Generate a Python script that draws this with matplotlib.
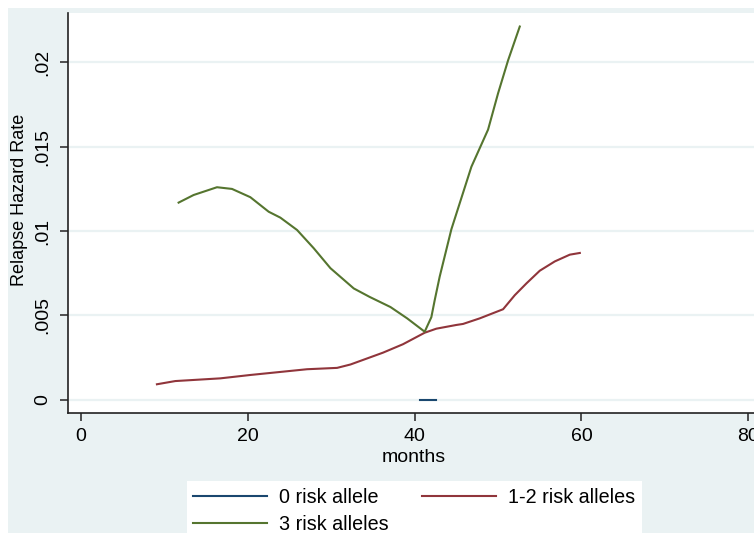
import matplotlib
matplotlib.use("Agg")
import matplotlib.pyplot as plt
from matplotlib.patches import Rectangle

plt.rcParams['font.family'] = ['Liberation Sans', 'DejaVu Sans']

# ---- data ----
blue_months = [40.6, 42.6]
blue_rate = [0.0, 0.0]

red_months = [9.1, 11.3, 16.7, 20.3, 24.3, 27.1, 30.7, 32.3, 36.2, 38.6, 41.2, 42.6,
              45.0, 45.8, 47.8, 50.6, 52.0, 53.4, 55.0, 56.8, 58.6, 59.8]
red_rate = [0.00093, 0.00112, 0.00128, 0.00148, 0.00168, 0.00182, 0.0019, 0.0021,
            0.0028, 0.0033, 0.00398, 0.00422, 0.00444, 0.0045, 0.00483, 0.00537,
            0.0062, 0.0069, 0.00765, 0.0082, 0.0086, 0.0087]

green_months = [11.7, 13.5, 16.3, 18.1, 20.3, 22.5, 23.9, 25.9, 27.9, 29.9, 32.7, 34.6,
                37.1, 39.1, 41.2, 42.0, 42.4, 43.0, 44.4, 46.8, 48.8, 50.0, 51.2, 52.6]
green_rate = [0.01168, 0.01213, 0.01259, 0.01249, 0.0120, 0.01114, 0.01079, 0.01006,
              0.00898, 0.0078, 0.0066, 0.0061, 0.0055, 0.00483, 0.00404, 0.0049,
              0.0059, 0.0073, 0.0101, 0.0138, 0.0160, 0.01815, 0.0201, 0.0221]

labels = ['0 risk allele', '1-2 risk alleles', '3 risk alleles']
x_ticks = [0, 20, 40, 60, 80]
y_ticks = [0, 0.005, 0.01, 0.015, 0.02]
y_tick_labels = ['0', '.005', '.01', '.015', '.02']

# ---- styling ----
W, H = 754, 533
bg = '#EAF2F3'
c_blue = '#1A476F'
c_red = '#90353B'
c_green = '#55752F'
fs = 14

fig = plt.figure(figsize=(W / 100, H / 100), dpi=100)
fig.patch.set_facecolor('white')
fig.patches.append(Rectangle((8 / W, 0), 1, 1 - 8 / H, transform=fig.transFigure,
                             facecolor=bg, edgecolor='none', zorder=-10))
# legend box (extends past the bottom edge like the reference)
fig.patches.append(Rectangle((187 / W, 0), (642 - 187) / W, 1 - 481 / H,
                             transform=fig.transFigure, facecolor='white',
                             edgecolor='none', zorder=-5))

left, top, bottom, right = 68, 13, 413, 760
ax = fig.add_axes([left / W, 1 - bottom / H, (right - left) / W, (bottom - top) / H])
ax.set_facecolor('white')

ax.plot(blue_months, blue_rate, color=c_blue, lw=1.5, label=labels[0], zorder=3)
ax.plot(red_months, red_rate, color=c_red, lw=1.5, label=labels[1], zorder=3)
ax.plot(green_months, green_rate, color=c_green, lw=1.5, label=labels[2], zorder=3)

ax.set_xlim(-1.56, 81.4)
ax.set_ylim(-0.00077, 0.0229)
ax.set_xticks(x_ticks)
ax.set_yticks(y_ticks)
ax.set_yticklabels(y_tick_labels, rotation=90, va='center')
ax.tick_params(axis='both', labelsize=fs, length=6, width=1.2, color='#333333', direction='out')
ax.tick_params(axis='y', pad=6)
ax.tick_params(axis='x', pad=5)
ax.grid(axis='y', color=bg, lw=1.6, zorder=0)
ax.set_axisbelow(True)
for s in ['top', 'right']:
    ax.spines[s].set_visible(False)
for s in ['left', 'bottom']:
    ax.spines[s].set_color('#222222')
    ax.spines[s].set_linewidth(1.2)

ax.set_xlabel('months', fontsize=fs, labelpad=3)
fig.text(20 / W, 1 - 200 / H, 'Relapse Hazard Rate', rotation=90, ha='center', va='center',
         fontsize=13.0)

h = ax.get_lines()
leg = fig.legend([h[0], h[2], h[1]], [labels[0], labels[2], labels[1]], ncol=2,
                 loc='upper left', bbox_to_anchor=(187 / W, 1 - 482 / H),
                 frameon=False, fontsize=14.2, handlelength=3.75,
                 handletextpad=0.6, columnspacing=1.7, labelspacing=0.42,
                 borderpad=0.3, borderaxespad=0)

fig.savefig('out.png', dpi=100, facecolor=fig.get_facecolor())
